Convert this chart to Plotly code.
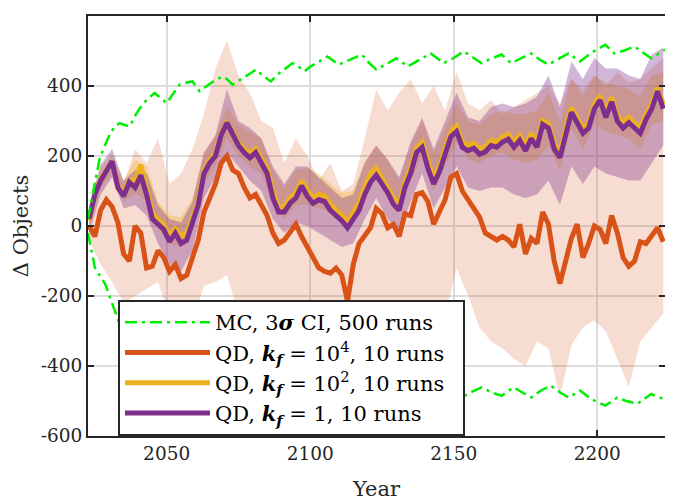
import plotly.graph_objects as go

# mean lines, sampled every 2 years
years = list(range(2023, 2224, 2))

qd_kf1e4 = [0, -30, 45, 75, 55, 10, -80, -100, 0, -20, -120, -115, -70, -90, -130, -110,
            -150, -140, -90, -40, 40, 80, 120, 180, 200, 160, 150, 110, 80, 90, 60, 30,
            -20, -50, -40, -20, 5, -30, -60, -95, -120, -130, -135, -120, -140, -215, -110, -50,
            -30, -5, 50, 35, -5, 5, -30, 35, 30, 90, 95, 70, 5, 40, 75, 140,
            150, 100, 75, 50, 25, -20, -30, -40, -30, -40, -60, 5, -80, -35, -50, 40,
            5, -100, -165, -105, -35, 5, -90, -50, 0, -10, -50, 30, -20, -90, -115, -100,
            -45, -50, -30, -5, -45]

qd_kf1e2 = [15, 90, 135, 162, 185, 115, 92, 130, 130, 175, 110, 35, 18, 5, -28, -8,
            -30, -20, 22, 70, 158, 188, 208, 265, 298, 270, 238, 220, 207, 220, 192, 165,
            98, 55, 55, 80, 95, 128, 102, 80, 90, 85, 62, 47, 32, 12, 38, 66,
            112, 150, 165, 138, 112, 80, 62, 124, 165, 222, 238, 180, 135, 170, 215, 268,
            285, 240, 230, 236, 220, 226, 245, 240, 255, 262, 240, 258, 230, 265, 240, 302,
            292, 235, 210, 270, 338, 308, 280, 292, 348, 372, 325, 368, 315, 295, 310, 295,
            280, 318, 348, 395, 348]

qd_kf1 = [20, 90, 130, 160, 185, 110, 85, 125, 110, 145, 90, 20, 5, -10, -45, -20,
          -50, -40, 10, 60, 150, 180, 200, 260, 295, 265, 230, 210, 195, 210, 180, 150,
          80, 40, 40, 65, 80, 115, 85, 65, 75, 70, 45, 30, 15, -5, 20, 45,
          90, 125, 145, 120, 95, 62, 45, 110, 150, 210, 225, 165, 120, 155, 200, 255,
          270, 225, 215, 222, 205, 212, 230, 225, 240, 248, 225, 245, 215, 250, 225, 290,
          280, 220, 195, 255, 325, 295, 265, 280, 335, 360, 310, 355, 300, 280, 295, 280,
          265, 305, 335, 385, 335]

# spread bands, sampled every 4 years
band_years = list(range(2023, 2224, 4))

kf1e4_hi = [40, 150, 180, 120, 220, 180, 250, 120, 150, 220, 320, 450, 530, 430, 380, 300,
            280, 180, 250, 200, 130, 180, 100, 120, 250, 390, 330, 380, 420, 350, 400, 330,
            440, 350, 330, 360, 320, 340, 360, 380, 400, 350, 420, 390, 430, 400, 440, 410,
            420, 450, 480]
kf1e4_lo = [-40, -110, -160, -220, -200, -180, -160, -260, -300, -280, -170, -160, -140, -250, -300, -320,
            -350, -380, -400, -420, -400, -450, -420, -380, -300, -300, -260, -300, -280, -300, -300, -260,
            -120, -200, -290, -330, -350, -380, -400, -330, -350, -490, -340, -290, -270, -300, -380, -460,
            -330, -290, -250]

kf1e2_hi = [50, 170, 205, 130, 190, 170, 70, 30, 25, 80, 210, 255, 340, 290, 270, 250,
            160, 110, 160, 165, 150, 120, 95, 100, 185, 230, 190, 130, 230, 300, 210, 280,
            350, 300, 290, 320, 330, 320, 320, 330, 380, 300, 420, 370, 430, 410, 400, 390,
            370, 430, 440]
kf1e2_lo = [0, 110, 150, 70, 95, 70, -10, -50, -60, -10, 120, 170, 250, 200, 170, 150,
            60, 20, 60, 60, 50, 40, 5, 10, 75, 135, 80, 40, 130, 200, 100, 170,
            240, 190, 180, 200, 210, 190, 180, 190, 230, 160, 280, 220, 290, 270, 260, 250,
            220, 290, 300]

kf1_hi = [60, 175, 220, 130, 160, 150, 60, 20, 10, 70, 210, 260, 390, 300, 280, 250,
          170, 120, 170, 170, 140, 110, 80, 90, 180, 230, 190, 140, 240, 310, 220, 300,
          380, 310, 300, 340, 350, 340, 350, 370, 430, 340, 470, 420, 480, 450, 450, 430,
          420, 490, 510]
kf1_lo = [-20, 90, 140, 50, 60, 30, -50, -110, -130, -70, 80, 140, 210, 170, 130, 100,
          20, -20, 10, 0, -20, -40, -60, -50, 20, 80, 20, -20, 70, 150, 50, 110,
          170, 110, 100, 110, 110, 90, 80, 90, 130, 60, 170, 120, 170, 150, 140, 130,
          130, 180, 230]

# Monte Carlo 3-sigma confidence interval
mc_years_hi = [2022.6, 2024.5, 2026.7, 2028.5, 2030.2, 2032, 2033.7, 2035.5, 2037.2, 2039,
               2040.6, 2043, 2045.8, 2048, 2050, 2052, 2054.5, 2057, 2059, 2061.5,
               2064, 2066.5, 2069.4, 2071, 2073, 2076, 2078.5, 2081.2, 2083.5, 2086.3,
               2089, 2091.5, 2093.8, 2096, 2098, 2100, 2103, 2106, 2110, 2114,
               2118, 2120, 2123, 2126, 2130, 2134, 2138, 2142, 2146.5, 2150,
               2153.5, 2156, 2159.7, 2163, 2166.7, 2170, 2173, 2177, 2180, 2183,
               2186, 2190, 2194, 2198, 2202.8, 2206, 2209, 2213, 2216, 2218.8,
               2221, 2223.6]
mc_hi = [20, 100, 194, 230, 262, 285, 294, 288, 285, 315,
         336, 360, 380, 365, 351, 375, 404, 410, 413, 385,
         400, 415, 427, 420, 404, 420, 432, 447, 430, 413,
         435, 450, 465, 455, 442, 455, 470, 484, 461, 475,
         490, 470, 447, 460, 479, 456, 475, 493, 465, 480,
         499, 485, 465, 478, 490, 465, 478, 493, 475, 461,
         475, 493, 470, 495, 518, 493, 500, 513, 495, 479,
         490, 504]

mc_years_lo = [2022.6, 2025, 2028.6, 2032, 2033.2, 2036, 2040, 2045, 2050, 2055,
               2060, 2065, 2070, 2075, 2080, 2085, 2090, 2095, 2100, 2105,
               2110, 2115, 2120, 2125, 2130, 2135, 2140, 2145, 2149, 2152.8,
               2156, 2159.7, 2163, 2166.7, 2170.8, 2174, 2177, 2180, 2183.7, 2187,
               2190, 2194, 2198, 2202.8, 2207, 2210, 2214, 2218.8, 2221, 2223.6]
mc_lo = [-20, -119, -166, -242, -271, -300, -330, -370, -360, -400,
         -405, -410, -430, -420, -445, -420, -450, -460, -450, -480,
         -465, -485, -470, -450, -480, -460, -490, -470, -480, -490,
         -475, -461, -475, -485, -461, -475, -490, -472, -456, -475,
         -490, -470, -495, -513, -490, -500, -508, -480, -488, -495]

y_ticks = [-600, -400, -200, 0, 200, 400, 600]
y_tick_labels = ["-600", "-400", "-200", "0", "200", "400", "600"]
x_ticks = [2050, 2100, 2150, 2200]

ORANGE = "#D95319"
YELLOW = "#EDB120"
PURPLE = "#7E2F8E"
GREEN = "#00EE00"
FONT = "DejaVu Serif"
PAD = "\u00a0\u00a0"

fig = go.Figure()


def add_band(hi, lo, fill):
    fig.add_trace(go.Scatter(x=band_years, y=hi, mode="lines", line=dict(width=0),
                             showlegend=False, hoverinfo="skip"))
    fig.add_trace(go.Scatter(x=band_years, y=lo, mode="lines", line=dict(width=0),
                             fill="tonexty", fillcolor=fill,
                             showlegend=False, hoverinfo="skip"))


add_band(kf1e4_hi, kf1e4_lo, "rgba(217,83,25,0.2)")
add_band(kf1e2_hi, kf1e2_lo, "rgba(237,177,32,0.35)")
add_band(kf1_hi, kf1_lo, "rgba(126,47,142,0.35)")

fig.add_trace(go.Scatter(x=years, y=qd_kf1e4, mode="lines", line=dict(color=ORANGE, width=5),
                         name="QD, <b><i>k</i></b><sub><b><i>f</i></b></sub> = 10<sup>4</sup>, 10 runs" + PAD,
                         legendrank=2, legendgroup="b"))
fig.add_trace(go.Scatter(x=years, y=qd_kf1e2, mode="lines", line=dict(color=YELLOW, width=5),
                         name="QD, <b><i>k</i></b><sub><b><i>f</i></b></sub> = 10<sup>2</sup>, 10 runs" + PAD,
                         legendrank=3, legendgroup="c"))
fig.add_trace(go.Scatter(x=years, y=qd_kf1, mode="lines", line=dict(color=PURPLE, width=5),
                         name="QD, <b><i>k</i></b><sub><b><i>f</i></b></sub> = 1, 10 runs",
                         legendrank=4, legendgroup="d"))

mc_line = dict(color=GREEN, width=2.5, dash="12px,5px,3px,5px")
fig.add_trace(go.Scatter(x=mc_years_hi, y=mc_hi, mode="lines", line=mc_line,
                         name="MC, 3<b><i>σ</i></b> CI, 500 runs", legendrank=1, legendgroup="a"))
fig.add_trace(go.Scatter(x=mc_years_lo, y=mc_lo, mode="lines", line=mc_line,
                         showlegend=False, legendgroup="a"))

axis_common = dict(showline=True, linecolor="#262626", linewidth=2, mirror="ticks",
                   ticks="inside", ticklen=6, tickwidth=1.5, tickcolor="#262626",
                   showgrid=True, gridcolor="#dcdcdc", gridwidth=1.5, zeroline=False,
                   tickfont=dict(family=FONT, size=18.5, color="#262626"))

fig.update_xaxes(range=[2022.6, 2223.6], tickvals=x_ticks,
                 title=dict(text="Year", font=dict(family=FONT, size=21, color="#262626"),
                            standoff=18),
                 **axis_common)
fig.update_yaxes(range=[-600, 600], tickvals=y_ticks, ticktext=y_tick_labels,
                 title=dict(text="Δ Objects", font=dict(family=FONT, size=21, color="#262626"),
                            standoff=6),
                 **axis_common)

# the page body adds an 8px margin, so the figure is shifted by that much
fig.update_layout(
    width=665, height=496,
    margin=dict(l=80, r=6, t=7, b=68),
    paper_bgcolor="white", plot_bgcolor="white",
    legend=dict(x=0.052, y=0, xanchor="left", yanchor="bottom",
                bgcolor="white", bordercolor="#262626", borderwidth=2,
                itemwidth=85, font=dict(family=FONT, size=21, color="black"),
                traceorder="grouped", tracegroupgap=0),
)

fig.write_html("out.html")
